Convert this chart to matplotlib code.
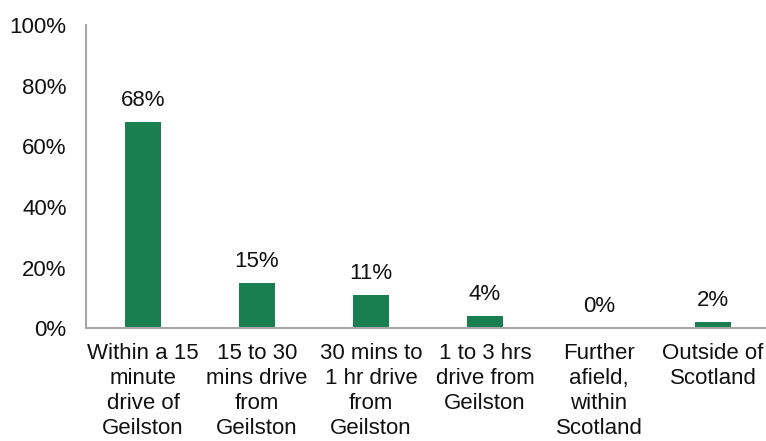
import matplotlib.pyplot as plt

plt.rcParams['font.family'] = ['Liberation Sans', 'DejaVu Sans']

categories = ['Within a 15\nminute\ndrive of\nGeilston',
              '15 to 30\nmins drive\nfrom\nGeilston',
              '30 mins to\n1 hr drive\nfrom\nGeilston',
              '1 to 3 hrs\ndrive from\nGeilston',
              'Further\nafield,\nwithin\nScotland',
              'Outside of\nScotland']
values = [68, 15, 11, 4, 0, 2]
yticks = [0, 20, 40, 60, 80, 100]

fs = 16
fig = plt.figure(figsize=(7.66, 4.41), dpi=100)
ax = fig.add_axes([0.1123, 0.256, 0.893, 0.687])

x = range(len(categories))
ax.bar(x, values, width=0.32, color='#1a7f50')
for xi, v in zip(x, values):
    ax.annotate(f'{v}%', (xi, v), xytext=(0, 8), textcoords='offset points',
                ha='center', va='bottom', fontsize=fs, color='#111111')

ax.set_xlim(-0.5, len(categories) - 0.5)
ax.set_ylim(0, 100)
ax.set_yticks(yticks)
ax.set_yticklabels([f'{t}%' for t in yticks])
ax.set_xticks(list(x))
ax.set_xticklabels(categories, va='top', ha='center', multialignment='center',
                   linespacing=1.24)
ax.tick_params(axis='y', length=0, pad=14, labelsize=fs, labelcolor='#111111')
ax.tick_params(axis='x', length=0, pad=11, labelsize=fs, labelcolor='#111111')

for s in ['top', 'right']:
    ax.spines[s].set_visible(False)
for s in ['left', 'bottom']:
    ax.spines[s].set_color('#a6a6a6')
    ax.spines[s].set_linewidth(1.5)

fig.savefig('out.png', dpi=100)
